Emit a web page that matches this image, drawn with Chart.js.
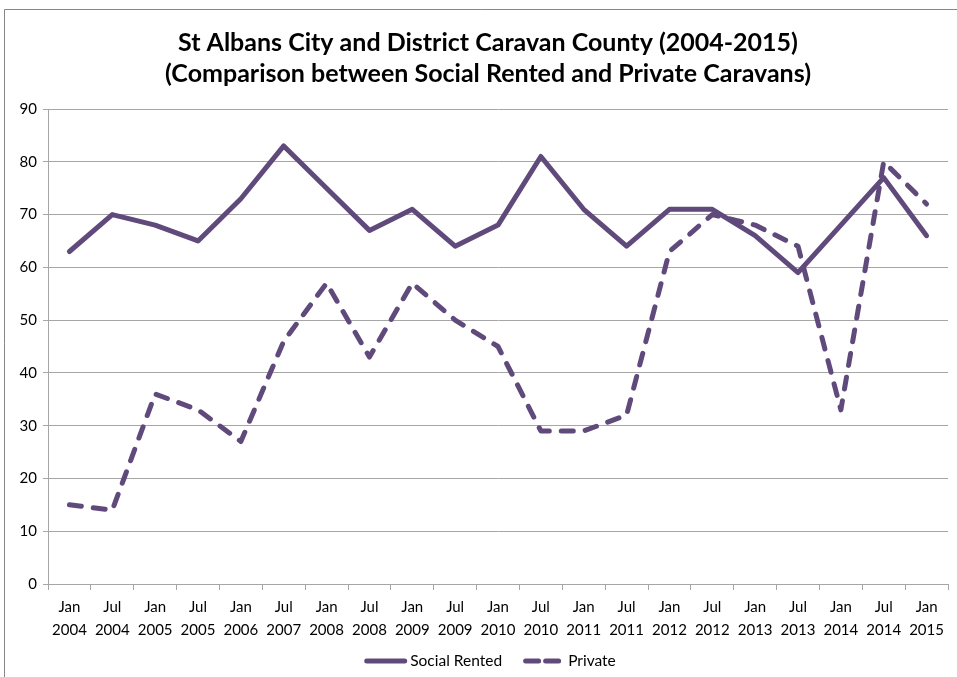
<!DOCTYPE html>
<html>
<head>
<meta charset="utf-8">
<script src="https://cdn.jsdelivr.net/npm/chart.js@4.4.0/dist/chart.umd.min.js"></script>
<style>
html,body{margin:0;padding:0;background:#fff;}
#wrap{position:absolute;left:0;top:0;width:957px;height:677px;}
</style>
</head>
<body>
<div id="wrap"><canvas id="c" width="957" height="677"></canvas></div>
<script>
const categories = [
  ["Jan","2004"],["Jul","2004"],["Jan","2005"],["Jul","2005"],["Jan","2006"],
  ["Jul","2007"],["Jan","2008"],["Jul","2008"],["Jan","2009"],["Jul","2009"],
  ["Jan","2010"],["Jul","2010"],["Jan","2011"],["Jul","2011"],["Jan","2012"],
  ["Jul","2012"],["Jan","2013"],["Jul","2013"],["Jan","2014"],["Jul","2014"],
  ["Jan","2015"]
];
const socialRented = [63,70,68,65,73,83,75,67,71,64,68,81,71,64,71,71,66,59,68,77,66];
const privateCaravans = [15,14,36,33,27,46,57,43,57,50,45,29,29,32,63,70,68,64,33,80,72];
const titleLines = ["St Albans City and District Caravan County (2004-2015)",
                    "(Comparison between Social Rented and Private Caravans)"];
const seriesNames = ["Social Rented","Private"];

const purple = "#604A7B";
const FONT = "Lato, 'Open Sans', sans-serif";

const decorPlugin = {
  id: 'decor',
  beforeDraw(chart) {
    const ctx = chart.ctx;
    ctx.save();
    // outer frame
    ctx.strokeStyle = '#868686';
    ctx.lineWidth = 1;
    ctx.beginPath();
    ctx.moveTo(4.5, 700);
    ctx.lineTo(4.5, 9.5);
    ctx.lineTo(960, 9.5);
    ctx.stroke();
    // title
    ctx.fillStyle = '#000';
    ctx.font = "bold 25px " + FONT;
    ctx.textAlign = 'center';
    ctx.textBaseline = 'middle';
    const cx = (chart.chartArea.left + chart.chartArea.right) / 2 - 10;
    ctx.fillText(titleLines[0], cx, 43);
    ctx.fillText(titleLines[1], cx, 74);
    ctx.restore();
  },
  afterDraw(chart) {
    const ctx = chart.ctx;
    ctx.save();
    ctx.font = "15.5px " + FONT;
    ctx.textBaseline = 'middle';
    ctx.textAlign = 'left';
    const lineW = [43, 40];
    const textGap = [3, 5];
    const itemGap = 21;
    const widths = chart.data.datasets.map((ds, i) => lineW[i] + textGap[i] + ctx.measureText(ds.label).width);
    const total = widths.reduce((a, b) => a + b, 0) + itemGap * (widths.length - 1);
    let x = (chart.chartArea.left + chart.chartArea.right) / 2 - 8 - total / 2;
    const y = 661;
    chart.data.datasets.forEach((ds, i) => {
      ctx.strokeStyle = ds.borderColor;
      ctx.lineWidth = ds.borderWidth;
      ctx.lineCap = 'round';
      ctx.setLineDash(ds.borderDash ? [13, 7] : []);
      ctx.beginPath();
      ctx.moveTo(x + 2.5, y);
      ctx.lineTo(x + lineW[i] - 2.5, y);
      ctx.stroke();
      ctx.setLineDash([]);
      ctx.fillStyle = '#000';
      ctx.fillText(ds.label, x + lineW[i] + textGap[i], y);
      x += widths[i] + itemGap;
    });
    ctx.restore();
  }
};

new Chart(document.getElementById('c'), {
  type: 'line',
  data: {
    labels: categories,
    datasets: [
      {
        label: seriesNames[0],
        data: socialRented,
        borderColor: purple,
        backgroundColor: purple,
        borderWidth: 5,
        pointRadius: 0,
        tension: 0,
        borderJoinStyle: 'round',
        borderCapStyle: 'round'
      },
      {
        label: seriesNames[1],
        data: privateCaravans,
        borderColor: purple,
        backgroundColor: purple,
        borderWidth: 5,
        borderDash: [12, 12],
        pointRadius: 0,
        tension: 0,
        borderJoinStyle: 'round',
        borderCapStyle: 'round'
      }
    ]
  },
  options: {
    responsive: false,
    animation: false,
    layout: { padding: { left: 0, right: 9, top: 109, bottom: 36 } },
    plugins: {
      title: { display: false },
      legend: { display: false },
      tooltip: { enabled: false }
    },
    scales: {
      x: {
        offset: true,
        grid: {
          offset: true,
          drawOnChartArea: false,
          drawTicks: true,
          tickLength: 6,
          color: '#A6A6A6'
        },
        border: { color: '#A6A6A6' },
        ticks: {
          color: '#000',
          font: { family: FONT, size: 15, lineHeight: 1.5 },
          maxRotation: 0,
          autoSkip: false,
          padding: 6
        },
        afterFit(scale) { scale.height = 57; }
      },
      y: {
        min: 0,
        max: 90,
        ticks: {
          stepSize: 10,
          color: '#000',
          font: { family: FONT, size: 15 },
          padding: 6
        },
        grid: {
          color: '#A6A6A6',
          tickLength: 5
        },
        border: { color: '#A6A6A6' },
        afterFit(scale) { scale.width = 48; }
      }
    }
  },
  plugins: [decorPlugin]
});
</script>
</body>
</html>
